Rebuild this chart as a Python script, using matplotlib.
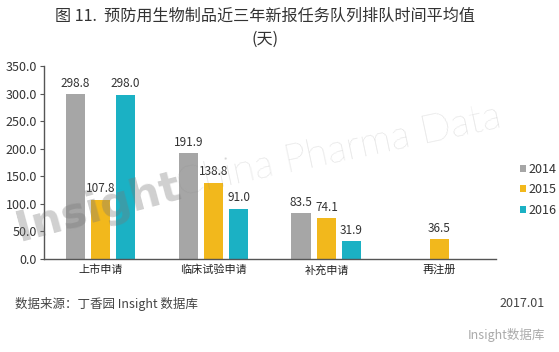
import matplotlib
matplotlib.use("Agg")
import matplotlib.pyplot as plt
import numpy as np

plt.rcParams['font.family'] = ['Noto Sans CJK SC', 'DejaVu Sans']

categories = ['上市申请', '临床试验申请', '补充申请', '再注册']
years = ['2014', '2015', '2016']
v2014 = [298.8, 191.9, 83.5, np.nan]
v2015 = [107.8, 138.8, 74.1, 36.5]
v2016 = [298.0, 91.0, 31.9, np.nan]
yticks = [0, 50, 100, 150, 200, 250, 300, 350]
colors = ['#a6a6a6', '#f2b81c', '#1bb1c4']

fig = plt.figure(figsize=(5.59, 3.52), dpi=100)
ax = fig.add_axes([0.0787, 0.264, 0.8085, 0.5485])

x = np.arange(len(categories))
w = 0.175
step = 0.222
for i, (vals, c) in enumerate(zip([v2014, v2015, v2016], colors)):
    pos = x + (i - 1) * step
    ax.bar(pos, vals, width=w, color=c, label=years[i], zorder=2)
    for p, v in zip(pos, vals):
        if not np.isnan(v):
            ax.text(p, v + 8, f'{v:.1f}', ha='center', va='bottom', fontsize=8.5, color='#333333', zorder=3)

ax.set_xlim(-0.5, 3.5)
ax.set_ylim(0, 350)
ax.set_yticks(yticks)
ax.set_yticklabels([f'{t:.1f}' for t in yticks], fontsize=9, color='#333333')
ax.set_xticks(x)
ax.set_xticklabels(categories, fontsize=8, color='#222222')
ax.tick_params(axis='x', length=0, pad=4)
ax.tick_params(axis='y', length=3, color='#555555', pad=2)
for s in ['top', 'right']:
    ax.spines[s].set_visible(False)
for s in ['left', 'bottom']:
    ax.spines[s].set_color('#555555')
    ax.spines[s].set_linewidth(1.0)

leg = fig.legend(loc='upper left', bbox_to_anchor=(0.91, 0.57), frameon=False,
                 fontsize=9, handlelength=0.5, handleheight=0.5, handletextpad=0.2,
                 labelspacing=0.6)
for t in leg.get_texts():
    t.set_color('#333333')

fig.text(0.474, 0.955, '图 11.  预防用生物制品近三年新报任务队列排队时间平均值', ha='center', va='center',
         fontsize=11.6, color='#333333')
fig.text(0.474, 0.888, '(天)', ha='center', va='center', fontsize=11.6, color='#333333')

fig.text(0.027, 0.137, '数据来源：丁香园 Insight 数据库', ha='left', va='center', fontsize=9, color='#444444')
fig.text(0.975, 0.137, '2017.01', ha='right', va='center', fontsize=9, color='#444444')
fig.text(0.975, 0.048, 'Insight数据库', ha='right', va='center', fontsize=9, color='#aaaaaa')

fig.text(0.02, 0.29, 'Insight', fontsize=31, fontweight='bold', color='#777777', alpha=0.35,
         family='DejaVu Sans', rotation=15, ha='left', va='bottom', zorder=10)
fig.text(0.31, 0.425, 'China Pharma Data', fontsize=29, fontweight='light', family='Lato',
         color='#888888', alpha=0.35, rotation=12, ha='left', va='bottom', zorder=10)

fig.savefig('out.png', dpi=100)
